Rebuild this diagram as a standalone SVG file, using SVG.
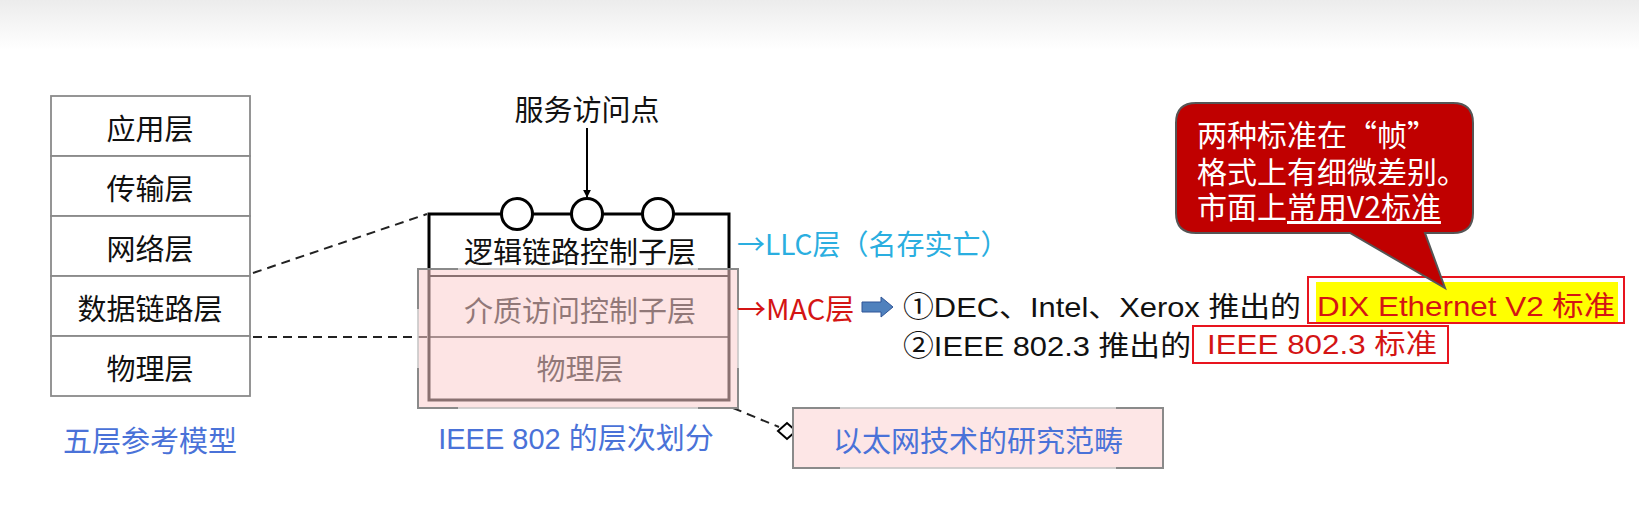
<svg xmlns="http://www.w3.org/2000/svg" width="1639" height="514" viewBox="0 0 1639 514">
<defs>
<linearGradient id="topg" x1="0" y1="0" x2="0" y2="1">
<stop offset="0" stop-color="#ececec"/>
<stop offset="1" stop-color="#ffffff"/>
</linearGradient>
<marker id="ah" viewBox="0 0 10 10" refX="9" refY="5" markerWidth="8" markerHeight="8" markerUnits="userSpaceOnUse" orient="auto">
<path d="M0,0 L10,5 L0,10 Z" fill="#000"/>
</marker>
</defs>
<style>
.cjk{font-family:"Noto Sans CJK SC","Noto Sans",sans-serif;}
.lat{font-family:"Liberation Sans","Noto Sans CJK SC",sans-serif;}
.cell{fill:#fff;stroke:#8a8a8a;stroke-width:1.8;}
.lbl{font-size:29px;fill:#111;text-anchor:middle;dominant-baseline:central;}
.blue{fill:#4a72d8;}
.dash{fill:none;stroke:#222;stroke-width:2;stroke-dasharray:9,6;}
.red{fill:#d41414;}
.corner{fill:none;stroke:#8a8a8a;stroke-width:2;}
.ctext{font-size:30px;fill:#fff;dominant-baseline:central;}
</style>
<rect x="0" y="0" width="1639" height="50" fill="url(#topg)"/>

<g id="five-layer-model">
<rect class="cell" x="51" y="96" width="199" height="60"/>
<rect class="cell" x="51" y="156" width="199" height="60"/>
<rect class="cell" x="51" y="216" width="199" height="60"/>
<rect class="cell" x="51" y="276" width="199" height="60"/>
<rect class="cell" x="51" y="336" width="199" height="60"/>
<text class="cjk lbl" x="150" y="127">应用层</text>
<text class="cjk lbl" x="150" y="187">传输层</text>
<text class="cjk lbl" x="150" y="247">网络层</text>
<text class="cjk lbl" x="150" y="307">数据链路层</text>
<text class="cjk lbl" x="150" y="367">物理层</text>
<text class="cjk lbl blue" x="150" y="439" font-size="30">五层参考模型</text>
</g>

<g id="connectors">
<line class="dash" x1="253" y1="273" x2="427" y2="214"/>
<line class="dash" x1="253" y1="337" x2="429" y2="337"/>
<line x1="587" y1="128" x2="587" y2="197" stroke="#000" stroke-width="2" marker-end="url(#ah)"/>
<line class="dash" x1="733" y1="408" x2="779" y2="427"/>
<path d="M778,431 L787,423 L796,431 L787,439 Z" fill="#fff" stroke="#000" stroke-width="2"/>
</g>

<g id="ieee802">
<rect x="429" y="214" width="300" height="186" fill="#fff" stroke="#000" stroke-width="3"/>
<line x1="429" y1="276" x2="729" y2="276" stroke="#000" stroke-width="2"/>
<line x1="429" y1="337" x2="729" y2="337" stroke="#000" stroke-width="1.6"/>
<circle cx="517" cy="214" r="15.5" fill="#fff" stroke="#000" stroke-width="3"/>
<circle cx="587" cy="214" r="15.5" fill="#fff" stroke="#000" stroke-width="3"/>
<circle cx="658" cy="214" r="15.5" fill="#fff" stroke="#000" stroke-width="3"/>
<text class="cjk lbl" x="587" y="108" font-size="28">服务访问点</text>
<text class="cjk lbl" x="580" y="250">逻辑链路控制子层</text>
<text class="cjk lbl" x="580" y="309">介质访问控制子层</text>
<text class="cjk lbl" x="580" y="367">物理层</text>
<rect x="418" y="269" width="320" height="139" fill="rgb(251,206,206)" fill-opacity="0.55" stroke="#c4c4c4" stroke-width="1.5"/>
<path class="corner" d="M418,309 V269 H458 M698,269 H738 V309 M738,368 V408 H698 M458,408 H418 V368"/>
<text class="lat lbl blue" x="576" y="439" font-size="30">IEEE 802 的层次划分</text>
</g>

<g id="llc-label">
<text class="cjk" x="737" y="243" font-size="28" fill="#2aaee0" dominant-baseline="central">→LLC层（名存实亡）</text>
</g>

<g id="mac-label">
<text class="cjk red" x="737" y="307" font-size="29" dominant-baseline="central">→MAC层</text>
<path d="M862,302 H881 V297 L893,307 L881,317 V312 H862 Z" fill="#4f81bd" stroke="#2f5597" stroke-width="1"/>
</g>

<g id="standards">
<text class="lat" x="903" y="307" font-size="28" fill="#111" dominant-baseline="central" textLength="398" lengthAdjust="spacingAndGlyphs">①DEC、Intel、Xerox 推出的</text>
<text class="lat" x="903" y="346" font-size="28" fill="#111" dominant-baseline="central" textLength="288" lengthAdjust="spacingAndGlyphs">②IEEE 802.3 推出的</text>
<rect x="1316" y="282" width="302" height="40" fill="#ffff00"/>
<rect x="1308" y="277" width="316" height="46" fill="none" stroke="#e8141e" stroke-width="2"/>
<text class="lat red" x="1317" y="306" font-size="28" dominant-baseline="central" textLength="298" lengthAdjust="spacingAndGlyphs">DIX Ethernet V2 标准</text>
<rect x="1193" y="326" width="255" height="37" fill="none" stroke="#e8141e" stroke-width="2"/>
<text class="lat red" x="1207" y="344" font-size="28" dominant-baseline="central" textLength="230" lengthAdjust="spacingAndGlyphs">IEEE 802.3 标准</text>
</g>

<g id="callout">
<path d="M1196,103 H1453 Q1473,103 1473,123 V213 Q1473,233 1453,233 H1425 L1445,288 L1350,233 H1196 Q1176,233 1176,213 V123 Q1176,103 1196,103 Z" fill="#c00000" stroke="#555" stroke-width="2"/>
<text class="cjk ctext"><tspan x="1197" y="133">两种标准在“帧”</tspan><tspan x="1197" y="170">格式上有细微差别。</tspan><tspan x="1197" y="205">市面上</tspan><tspan text-decoration="underline">常用V2标准</tspan></text>
</g>

<g id="ethernet-scope">
<rect x="793" y="408" width="370" height="60" fill="#fde6e6" stroke="#c4c4c4" stroke-width="1.5"/>
<path class="corner" d="M793,448 V408 H840 M1116,408 H1163 V448 M1163,428 V468 H1116 M840,468 H793 V428"/>
<text class="cjk lbl blue" x="978" y="439" font-size="31">以太网技术的研究范畴</text>
</g>
</svg>
